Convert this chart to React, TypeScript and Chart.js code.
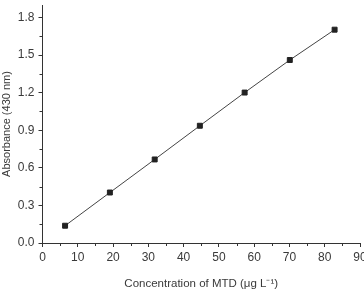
import React, { useEffect, useRef } from "react";
import { Chart, registerables } from "chart.js";

Chart.register(...registerables);

const concentration = [6.4, 19.1, 31.8, 44.6, 57.3, 70.1, 82.8];
const absorbance = [0.138, 0.403, 0.667, 0.936, 1.201, 1.461, 1.703];
const yMajorTicks = [0, 0.3, 0.6, 0.9, 1.2, 1.5, 1.8];
const xMinorTicks = [5, 15, 25, 35, 45, 55, 65, 75, 85];
const yMinorTicks = [0.15, 0.45, 0.75, 1.05, 1.35, 1.65];

const FONT = "'Liberation Sans', Arial, sans-serif";
const AXIS_COLOR = "#333";
const TEXT_COLOR = "#3a3a3a";

const minorTickPlugin = {
  id: "minorTicks",
  afterDraw(chart: any) {
    const ctx = chart.ctx;
    const xs = chart.scales.x;
    const ys = chart.scales.y;
    const area = chart.chartArea;
    ctx.save();
    ctx.strokeStyle = AXIS_COLOR;
    ctx.lineWidth = 1;
    ctx.beginPath();
    xMinorTicks.forEach((v) => {
      const px = Math.round(xs.getPixelForValue(v)) + 0.5;
      ctx.moveTo(px, area.bottom);
      ctx.lineTo(px, area.bottom + 3);
    });
    yMinorTicks.forEach((v) => {
      const py = Math.round(ys.getPixelForValue(v)) + 0.5;
      ctx.moveTo(area.left - 3, py);
      ctx.lineTo(area.left, py);
    });
    ctx.stroke();
    ctx.restore();
  },
};

export default function App() {
  const ref = useRef<HTMLCanvasElement | null>(null);

  useEffect(() => {
    if (!ref.current) return;
    const chart = new Chart(ref.current, {
      type: "scatter",
      data: {
        datasets: [
          {
            data: concentration.map((x, i) => ({ x, y: absorbance[i] })),
            showLine: true,
            borderColor: "#444",
            borderWidth: 1,
            pointStyle: "rect",
            pointRadius: 3.5,
            pointBorderWidth: 1,
            pointBackgroundColor: "#222",
            pointBorderColor: "#222",
          },
        ],
      },
      options: {
        animation: false,
        responsive: true,
        maintainAspectRatio: false,
        layout: { padding: 0 },
        plugins: { legend: { display: false }, tooltip: { enabled: false } },
        scales: {
          x: {
            type: "linear",
            min: 0,
            max: 90,
            ticks: {
              stepSize: 10,
              color: TEXT_COLOR,
              font: { family: FONT, size: 12 },
              padding: 3,
              maxRotation: 0,
            },
            grid: {
              display: true,
              drawOnChartArea: false,
              drawTicks: true,
              tickLength: 4,
              tickColor: AXIS_COLOR,
            },
            border: { display: true, color: AXIS_COLOR, width: 1 },
            title: {
              display: true,
              text: "Concentration of MTD (μg L⁻¹)",
              color: TEXT_COLOR,
              font: { family: FONT, size: 11.5 },
              padding: { top: 10, bottom: 0 },
            },
            afterFit: (s: any) => {
              s.height = 48;
              s.paddingLeft = 0;
              s.paddingRight = 0;
            },
          },
          y: {
            type: "linear",
            min: 0,
            max: 1.9,
            afterBuildTicks: (s: any) => {
              s.ticks = yMajorTicks.map((value) => ({ value }));
            },
            ticks: {
              color: TEXT_COLOR,
              font: { family: FONT, size: 12 },
              padding: 4,
              callback: (v: any) => Number(v).toFixed(1),
            },
            grid: {
              display: true,
              drawOnChartArea: false,
              drawTicks: true,
              tickLength: 4,
              tickColor: AXIS_COLOR,
            },
            border: { display: true, color: AXIS_COLOR, width: 1 },
            title: {
              display: true,
              text: "Absorbance (430 nm)",
              color: TEXT_COLOR,
              font: { family: FONT, size: 11 },
              padding: { top: 0, bottom: 2 },
            },
            afterFit: (s: any) => {
              s.width = 42.5;
              s.paddingTop = 0;
              s.paddingBottom = 0;
            },
          },
        },
      },
      plugins: [minorTickPlugin],
    });
    return () => chart.destroy();
  }, []);

  return (
    <div
      style={{
        position: "absolute",
        left: 0,
        top: 0,
        width: 364,
        height: 291,
        overflow: "hidden",
        background: "#fff",
      }}
    >
      <div style={{ position: "relative", width: 365, height: 291 }}>
        <canvas ref={ref} />
      </div>
    </div>
  );
}
